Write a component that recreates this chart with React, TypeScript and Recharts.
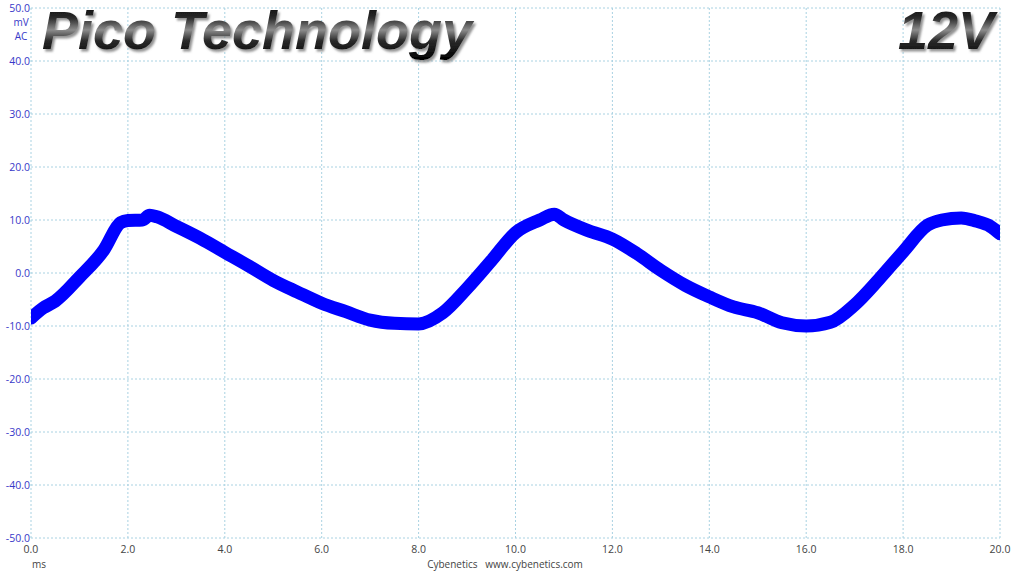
import React from 'react';
import { LineChart, Line, XAxis, YAxis, CartesianGrid } from 'recharts';

const timeMs = [0, 0.25, 0.5, 1.0, 1.5, 1.85, 2.0, 2.3, 2.45, 2.6, 3.0, 3.5, 4.0, 4.5, 5.0, 5.5, 6.0, 6.5, 7.0, 7.5, 8.0, 8.5, 9.0, 9.5, 10.0, 10.5, 10.8, 11.0, 11.5, 12.0, 12.5, 13.0, 13.5, 14.0, 14.5, 15.0, 15.5, 16.0, 16.5, 17.0, 17.5, 18.0, 18.5, 18.8, 19.2, 19.5, 19.8, 20.0];
const rippleMv = [-8.5, -6.6, -5.3, -0.8, 4.3, 9.5, 9.9, 10.0, 10.9, 10.6, 8.8, 6.5, 3.9, 1.3, -1.4, -3.6, -5.7, -7.3, -8.9, -9.5, -9.6, -7.5, -2.9, 2.3, 7.6, 10.0, 11.1, 10.0, 8.0, 6.4, 3.7, 0.5, -2.3, -4.5, -6.4, -7.5, -9.4, -10.0, -9.3, -6.0, -1.2, 4.0, 9.0, 10.0, 10.4, 9.8, 8.8, 7.4];
const xTicks = [0, 2, 4, 6, 8, 10, 12, 14, 16, 18, 20];
const yTicks = [-50, -40, -30, -20, -10, 0, 10, 20, 30, 40, 50];

const data = timeMs.map((t, i) => ({ t, v: rippleMv[i] }));

const FONT = '"Open Sans", "DejaVu Sans", sans-serif';

const YTick = (props: any) => {
  const { x, y, payload } = props;
  const isTop = payload.value === 50;
  return (
    <g>
      <text x={x} y={y} dy={4} textAnchor="end" fill="#3838c8" fontSize={10.5} fontFamily={FONT}>
        {payload.value.toFixed(1)}
      </text>
      {isTop && (
        <>
          <text x={21} y={y + 14} dy={4} textAnchor="middle" fill="#3838c8" fontSize={10} fontFamily={FONT}>mV</text>
          <text x={21} y={y + 28} dy={4} textAnchor="middle" fill="#3838c8" fontSize={10} fontFamily={FONT}>AC</text>
        </>
      )}
    </g>
  );
};

const XTick = (props: any) => {
  const { x, y, payload } = props;
  return (
    <text x={x} y={y} dy="0.71em" textAnchor="middle" fill="#444" fontSize={10.5} fontFamily={FONT}>
      {payload.value.toFixed(1)}
    </text>
  );
};

export default function App() {
  return (
    <div style={{ position: 'absolute', left: 0, top: 0, width: 1015, height: 571, background: '#fff', overflow: 'hidden' }}>
      <LineChart width={1015} height={571} data={data} margin={{ top: 8, right: 15, bottom: 0, left: 0 }}>
        <CartesianGrid stroke="#a9d2e2" strokeDasharray="2 2" />
        <XAxis
          dataKey="t"
          type="number"
          domain={[0, 20]}
          ticks={xTicks}
          interval={0}
          axisLine={false}
          tickLine={false}
          tickSize={0}
          tickMargin={8}
          height={33}
          tick={<XTick />}
          allowDataOverflow
        />
        <YAxis
          type="number"
          domain={[-50, 50]}
          ticks={yTicks}
          interval={0}
          axisLine={false}
          tickLine={false}
          tickSize={0}
          tickMargin={1}
          width={31}
          tick={<YTick />}
          allowDataOverflow
        />
        <Line
          dataKey="v"
          type="monotone"
          stroke="#0000ff"
          strokeWidth={13}
          strokeLinejoin="round"
          strokeLinecap="round"
          dot={false}
          isAnimationActive={false}
        />
      </LineChart>
      <div style={{ position: 'absolute', left: 32, top: 557, fontFamily: FONT, fontSize: 10, color: '#444' }}>ms</div>
      <div style={{ position: 'absolute', left: 0, width: 1010, textAlign: 'center', top: 557, fontFamily: FONT, fontSize: 10, color: '#444', whiteSpace: 'pre' }}>
        {'Cybenetics   www.cybenetics.com'}
      </div>
      <svg width={1015} height={80} style={{ position: 'absolute', left: 0, top: 0, pointerEvents: 'none' }}>
        <defs>
          <linearGradient id="titleGrad" x1="0" y1="0" x2="0" y2="1">
            <stop offset="0%" stopColor="#000" />
            <stop offset="30%" stopColor="#2a2a2a" />
            <stop offset="50%" stopColor="#8c8c8c" />
            <stop offset="68%" stopColor="#2a2a2a" />
            <stop offset="100%" stopColor="#000" />
          </linearGradient>
          <filter id="titleShadow" x="-5%" y="-20%" width="110%" height="150%">
            <feDropShadow dx="2" dy="2.5" stdDeviation="1" floodColor="#777" floodOpacity="0.8" />
          </filter>
        </defs>
        <g fontFamily='"Liberation Sans", Arial, sans-serif' fontWeight="bold" fontStyle="italic" fontSize={54} filter="url(#titleShadow)">
          <text x={42} y={49} fill="url(#titleGrad)">Pico Technology</text>
          <text x={994} y={49} textAnchor="end" fill="url(#titleGrad)">12V</text>
        </g>
      </svg>
    </div>
  );
}
